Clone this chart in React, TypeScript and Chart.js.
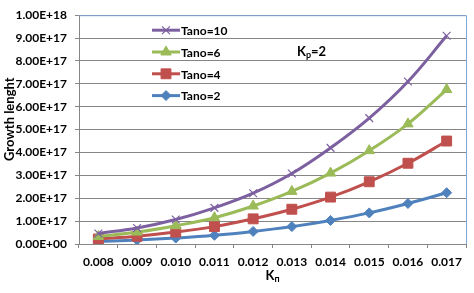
import React, { useEffect, useRef } from "react";
import { Chart, registerables } from "chart.js";
import { drawPoint } from "chart.js/helpers";
Chart.register(...registerables);

const categories = ["0.008", "0.009", "0.010", "0.011", "0.012", "0.013", "0.014", "0.015", "0.016", "0.017"];
const tano10 = [0.46e17, 0.7e17, 1.07e17, 1.58e17, 2.22e17, 3.08e17, 4.2e17, 5.5e17, 7.1e17, 9.1e17];
const tano6 = [0.33e17, 0.52e17, 0.8e17, 1.15e17, 1.66e17, 2.3e17, 3.1e17, 4.08e17, 5.25e17, 6.75e17];
const tano4 = [0.22e17, 0.34e17, 0.52e17, 0.76e17, 1.1e17, 1.52e17, 2.05e17, 2.72e17, 3.53e17, 4.5e17];
const tano2 = [0.11e17, 0.17e17, 0.26e17, 0.38e17, 0.55e17, 0.76e17, 1.03e17, 1.36e17, 1.77e17, 2.24e17];
const seriesLabels = ["Tano=10", "Tano=6", "Tano=4", "Tano=2"];
const yMin = 0;
const yMax = 1e18;
const yStep = 1e17;

const FONT = "Lato, 'Liberation Sans', Arial, sans-serif";

function sci(v: number): string {
  if (Math.abs(v) < 1) return "0.00E+00";
  const e = Math.floor(Math.log10(v) + 1e-9);
  const m = v / Math.pow(10, e);
  return m.toFixed(2) + "E+" + String(e).padStart(2, "0");
}

const extras = {
  id: "extras",
  beforeDatasetsDraw(chart: any) {
    const { ctx, chartArea: a } = chart;
    ctx.save();
    ctx.strokeStyle = "#7FA7D9";
    ctx.lineWidth = 1;
    ctx.beginPath();
    ctx.moveTo(a.left, a.top + 0.5);
    ctx.lineTo(a.right + 0.5, a.top + 0.5);
    ctx.lineTo(a.right + 0.5, a.bottom);
    ctx.stroke();
    ctx.restore();
  },
  afterDraw(chart: any) {
    const { ctx, chartArea: a } = chart;
    ctx.save();
    // legend
    chart.data.datasets.forEach((ds: any, i: number) => {
      const y = a.top + 15 + i * 21.8;
      const x0 = a.left + 73;
      const x1 = a.left + 101;
      ctx.strokeStyle = ds.borderColor;
      ctx.lineWidth = 3;
      ctx.beginPath();
      ctx.moveTo(x0, y);
      ctx.lineTo(x1, y);
      ctx.stroke();
      ctx.fillStyle = ds.pointBackgroundColor;
      ctx.strokeStyle = ds.pointBorderColor;
      ctx.lineWidth = ds.pointBorderWidth;
      drawPoint(ctx, { pointStyle: ds.pointStyle, radius: ds.pointRadius, rotation: 0, borderWidth: ds.pointBorderWidth }, (x0 + x1) / 2, y);
      ctx.fillStyle = "#000";
      ctx.font = "bold 12px " + FONT;
      ctx.textAlign = "left";
      ctx.textBaseline = "middle";
      ctx.fillText(ds.label, x1 + 1, y + 1);
    });
    // K_p = 2
    ctx.fillStyle = "#000";
    ctx.textBaseline = "alphabetic";
    ctx.textAlign = "left";
    let x = a.left + 218;
    let yb = a.top + 41;
    ctx.font = "bold 13px " + FONT;
    ctx.fillText("K", x, yb);
    x += ctx.measureText("K").width;
    ctx.font = "bold 9px " + FONT;
    ctx.fillText("p", x, yb + 2);
    x += ctx.measureText("p").width;
    ctx.font = "bold 13px " + FONT;
    ctx.fillText("=2", x, yb);
    // x title K_п
    const cx = (a.left + a.right) / 2;
    ctx.font = "bold 13px " + FONT;
    const kw = ctx.measureText("K").width;
    ctx.font = "bold 9px " + FONT;
    const pw = ctx.measureText("п").width;
    let tx = cx - (kw + pw) / 2;
    const ty = a.bottom + 36;
    ctx.font = "bold 13px " + FONT;
    ctx.fillText("K", tx, ty);
    ctx.font = "bold 9px " + FONT;
    ctx.fillText("п", tx + kw, ty + 2);
    // y title
    ctx.translate(a.left - 69, a.top + 104);
    ctx.rotate(-Math.PI / 2);
    ctx.font = "bold 13px " + FONT;
    ctx.textAlign = "center";
    ctx.textBaseline = "middle";
    ctx.fillText("Growth lenght", 0, 0);
    ctx.restore();
  },
};

export default function App() {
  const ref = useRef<HTMLCanvasElement | null>(null);
  useEffect(() => {
    const prev = document.body.style.margin;
    document.body.style.margin = "0";
    const mk = (label: string, data: number[], color: string, style: string, radius: number, bw: number) => ({
      label,
      data,
      borderColor: color,
      backgroundColor: color,
      borderWidth: 3,
      tension: 0.4,
      pointStyle: style,
      pointRadius: radius,
      pointHoverRadius: radius,
      pointBackgroundColor: color,
      pointBorderColor: color,
      pointBorderWidth: bw,
    });
    const chart = new Chart(ref.current as HTMLCanvasElement, {
      type: "line",
      data: {
        labels: categories,
        datasets: [
          mk(seriesLabels[0], tano10, "#7D60A0", "crossRot", 5.5, 1.2),
          mk(seriesLabels[1], tano6, "#9BBB59", "triangle", 6, 1),
          mk(seriesLabels[2], tano4, "#C0504D", "rect", 7, 1),
          mk(seriesLabels[3], tano2, "#4F81BD", "rectRot", 5, 1),
        ] as any,
      },
      plugins: [extras],
      options: {
        animation: false,
        responsive: false,
        layout: { padding: { top: 11, right: 7, bottom: 0, left: 0 } },
        plugins: { legend: { display: false }, tooltip: { enabled: false } },
        scales: {
          x: {
            type: "category",
            offset: true,
            grid: { display: true, offset: true, drawOnChartArea: false, drawTicks: true, tickLength: 4, color: "#868686" },
            border: { color: "#868686", width: 1 },
            ticks: { color: "#000", font: { family: FONT, size: 12, weight: "bold" }, padding: 7, maxRotation: 0, autoSkip: false },
            afterFit: (s: any) => { s.height = 49; },
          },
          y: {
            min: yMin,
            max: yMax,
            grid: { color: "#868686", tickLength: 4, drawTicks: true },
            border: { color: "#868686", width: 1 },
            ticks: {
              stepSize: yStep,
              color: "#000",
              font: { family: FONT, size: 12, weight: "bold" },
              padding: 8,
              callback: (v: any) => sci(Number(v)),
            },
            afterFit: (s: any) => { s.width = 79; },
          },
        },
      } as any,
    });
    return () => {
      chart.destroy();
      document.body.style.margin = prev;
    };
  }, []);
  return (
    <div style={{ position: "absolute", left: 0, top: 0, width: 474, height: 293, background: "#fff" }}>
      <canvas ref={ref} width={474} height={293} style={{ width: 474, height: 293, display: "block" }} />
    </div>
  );
}
